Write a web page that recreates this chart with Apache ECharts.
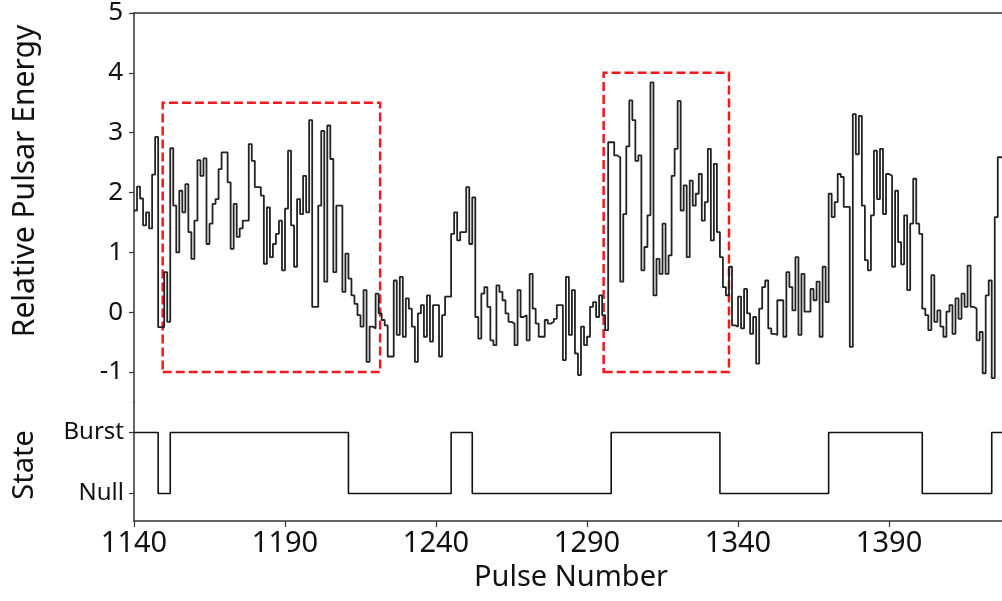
<!DOCTYPE html>
<html><head><meta charset="utf-8">
<script src="https://cdn.jsdelivr.net/npm/echarts@6/dist/echarts.min.js"></script>
<style>html,body{margin:0;padding:0;background:#fff}#c{width:1002px;height:601px}</style>
</head><body><div id="c"></div>
<script>
// ---- data ----
const pulseStart = 1140;
const energy = [
 1.7, 2.1, 1.9, 1.45, 1.67, 1.4, 2.3, 2.93, -0.25, -0.25,
 0.67, -0.16, 2.74, 1.78, 1.0, 2.03, 1.67, 2.14, 1.34, 0.89,
 1.53, 2.54, 2.28, 2.57, 1.14, 1.48, 1.81, 1.89, 2.39, 2.67,
 2.67, 2.17, 1.06, 1.81, 1.26, 1.4, 1.53, 1.53, 2.81, 2.53,
 2.09, 2.09, 1.95, 0.81, 1.75, 0.92, 1.14, 1.31, 1.53, 0.7,
 1.73, 2.7, 1.45, 0.76, 1.89, 1.64, 2.28, 1.67, 3.21, 0.09,
 0.09, 1.78, 3.03, 0.51, 3.12, 2.56, 0.67, 1.78, 1.78, 0.34,
 0.98, 0.56, 0.28, 0.14, -0.05, -0.24, 0.37, -0.83, -0.24, -0.27,
 0.31, -0.02, -0.13, -0.22, -0.74, -0.74, 0.53, -0.38, 0.59, -0.41,
 0.23, 0.06, -0.24, -0.83, -0.02, 0.12, -0.41, 0.28, -0.49, 0.12,
 0.12, -0.74, -0.05, 0.26, 0.26, 1.31, 1.67, 1.2, 1.34, 1.34,
 2.09, 1.14, 1.92, -0.08, -0.44, 0.31, 0.42, 0.09, -0.47, -0.55,
 0.45, 0.34, 0.2, -0.02, -0.16, -0.19, -0.55, 0.37, -0.08, -0.05,
 -0.47, 0.64, 0.06, -0.19, -0.41, -0.41, -0.13, -0.19, -0.16, -0.11,
 0.12, 0.12, -0.8, 0.59, -0.38, 0.37, -0.69, -1.05, -0.24, -0.55,
 -0.41, 0.09, 0.17, -0.08, 0.28, -0.05, -0.3, 2.84, 2.84, 2.62,
 2.59, 0.51, 1.64, 2.77, 3.54, 3.21, 2.53, 2.62, 0.7, 1.09,
 1.62, 3.84, 0.28, 0.89, 0.64, 1.48, 0.64, 0.95, 2.28, 2.73,
 3.53, 1.7, 2.12, 0.92, 2.2, 1.78, 1.98, 2.31, 1.53, 1.84,
 2.73, 1.2, 2.48, 1.34, 0.92, 0.42, 0.28, 0.76, -0.22, -0.24,
 0.26, -0.27, 0.39, -0.02, -0.36, -0.08, -0.86, 0.06, 0.42, 0.53,
 -0.27, -0.36, -0.38, 0.2, 0.2, -0.41, 0.67, 0.42, 0.03, 0.92,
 -0.38, 0.64, 0.01, 0.01, 0.39, 0.2, 0.51, -0.41, 0.76, 0.17,
 1.98, 1.59, 1.84, 2.31, 2.26, 1.76, 1.76, -0.58, 3.31, 2.64,
 3.28, 1.78, 0.87, 0.7, 1.62, 2.7, 1.89, 2.73, 1.64, 2.31,
 2.28, 0.76, 2.03, 1.17, 0.8, 1.62, 0.37, 1.48, 2.23, 1.48,
 1.31, 0.06, -0.05, -0.3, 0.62, -0.16, 0.03, -0.24, -0.41, 0.01,
 0.12, -0.36, 0.23, -0.11, 0.31, 0.09, 0.78, 0.09, 0.06, -0.47,
 -0.33, -1.02, 0.28, 0.53, -1.1, 1.59, 2.59, 2.59
];
const stateNames = ['Null', 'Burst'];
const stateChangePulse = [1140, 1148, 1152, 1211, 1245, 1252, 1298, 1334, 1370, 1401, 1424];
const stateValue =       [1,    0,    1,    0,    1,    0,    1,    0,    1,    0,    1];
const xTicks = [1140, 1190, 1240, 1290, 1340, 1390];
const energyTicks = [-1, 0, 1, 2, 3, 4, 5];
const stateTicks = [0, 1];
// dashed highlight boxes: [pulseFrom, pulseTo, energyLow, energyHigh]
const boxes = [[1149.5, 1221.5, -1, 3.5], [1295.5, 1337, -1, 4]];
const xMin = 1140, xMax = 1427.4;

// ---- chart ----
const FONT = '"Noto Sans", "Open Sans", sans-serif';
const TXT = '#111';
const AX = '#333';
const energyData = energy.map((v, i) => [pulseStart + i, v]);
energyData.push([pulseStart + energy.length, energy[energy.length - 1]]);
const stateData = stateChangePulse.map((p, i) => [p, stateValue[i]]);
stateData.push([xMax + 1, stateValue[stateValue.length - 1]]);

const chart = echarts.init(document.getElementById('c'), null, {renderer: 'canvas'});
chart.setOption({
  animation: false,
  backgroundColor: '#fff',
  grid: [
    {left: 134, right: 0, top: 12, height: 390},
    {left: 134, right: 0, top: 402, height: 119}
  ],
  xAxis: [
    {gridIndex: 0, type: 'value', min: xMin, max: xMax, position: 'top',
     axisLine: {show: true, onZero: false, lineStyle: {color: AX, width: 1.5}},
     axisTick: {show: false}, axisLabel: {show: false}, splitLine: {show: false}},
    {gridIndex: 1, type: 'value', min: xMin, max: xMax, interval: 50, position: 'bottom',
     axisLine: {show: true, onZero: false, lineStyle: {color: AX, width: 1.5}},
     axisTick: {show: true, length: 6, lineStyle: {color: AX, width: 1.2}, customValues: xTicks},
     axisLabel: {show: true, customValues: xTicks, fontFamily: FONT, fontSize: 29, color: TXT, margin: 8,
                 formatter: v => String(v)},
     splitLine: {show: false}}
  ],
  yAxis: [
    {gridIndex: 0, type: 'value', min: -1.5, max: 5,
     axisLine: {show: true, onZero: false, lineStyle: {color: AX, width: 1.5}},
     axisTick: {show: true, length: 5, customValues: energyTicks, lineStyle: {color: AX, width: 1.2}},
     axisLabel: {show: true, customValues: energyTicks, fontFamily: FONT, fontSize: 26, color: TXT, margin: 11,
                 formatter: v => String(v)},
     splitLine: {show: false}},
    {gridIndex: 1, type: 'value', min: -0.45, max: 1.5,
     axisLine: {show: true, onZero: false, lineStyle: {color: AX, width: 1.5}},
     axisTick: {show: true, length: 5, customValues: stateTicks, lineStyle: {color: AX, width: 1.2}},
     axisLabel: {show: true, customValues: stateTicks, fontFamily: FONT, fontSize: 24, color: TXT, margin: 10,
                 formatter: v => stateNames[Math.round(v)]},
     splitLine: {show: false}}
  ],
  series: [
    {type: 'line', xAxisIndex: 0, yAxisIndex: 0, step: 'end', data: energyData,
     showSymbol: false, symbol: 'none', clip: true,
     lineStyle: {color: '#222', width: 1.8},
     markArea: {silent: true,
       itemStyle: {color: 'rgba(0,0,0,0)', borderColor: '#f0191e', borderWidth: 2.5, borderType: [9, 4]},
       data: boxes.map(b => [{xAxis: b[0], yAxis: b[2]}, {xAxis: b[1], yAxis: b[3]}])}},
    {type: 'line', xAxisIndex: 1, yAxisIndex: 1, step: 'end', data: stateData,
     showSymbol: false, symbol: 'none', clip: true,
     lineStyle: {color: '#111', width: 1.6}}
  ],
  graphic: [
    {type: 'text', x: 25, y: 181, rotation: Math.PI / 2,
     style: {text: 'Relative Pulsar Energy', font: '30px ' + FONT, fill: TXT, align: 'center', verticalAlign: 'middle'}},
    {type: 'text', x: 25, y: 465, rotation: Math.PI / 2,
     style: {text: 'State', font: '29px ' + FONT, fill: TXT, align: 'center', verticalAlign: 'middle'}},
    {type: 'text', x: 571, y: 578,
     style: {text: 'Pulse Number', font: '29px ' + FONT, fill: TXT, align: 'center', verticalAlign: 'middle'}}
  ]
});
</script></body></html>
